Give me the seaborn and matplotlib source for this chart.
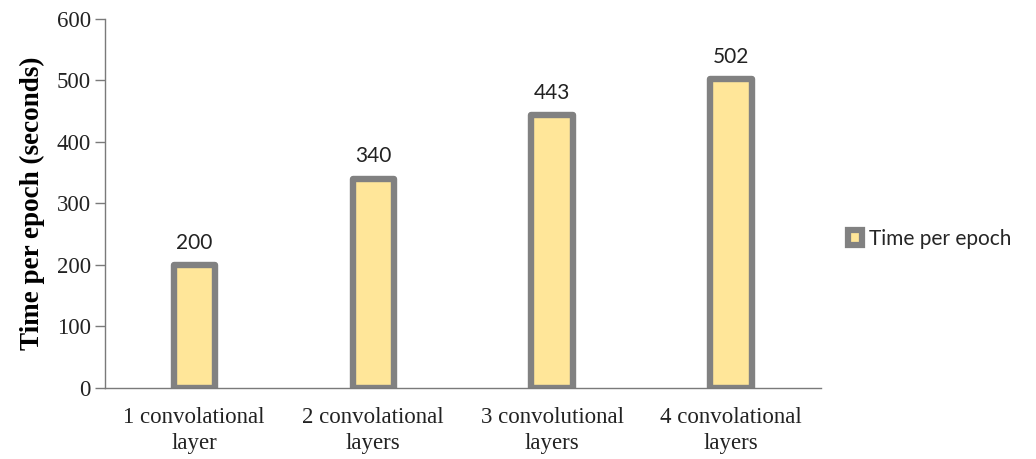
import matplotlib
matplotlib.use("Agg")
import matplotlib.pyplot as plt
from matplotlib.patches import Patch
import seaborn as sns
import pandas as pd

categories = ["1 convolational\nlayer", "2 convolational\nlayers",
              "3 convolutional\nlayers", "4 convolational\nlayers"]
times = [200, 340, 443, 502]
series_name = "Time per epoch"
yticks = [0, 100, 200, 300, 400, 500, 600]

sns.set_theme(style="white")
plt.rcParams["font.family"] = ["Liberation Serif", "DejaVu Serif"]

df = pd.DataFrame({"category": categories, "time": times})

fig = plt.figure(figsize=(10.36, 4.59), dpi=100)
ax = fig.add_axes([0.101, 0.155, 0.691, 0.804])

fill = "#FFE699"
edge = "#818181"
sns.barplot(data=df, x="category", y="time", color=fill, width=0.23,
            edgecolor=edge, linewidth=4.6, saturation=1, ax=ax)
for patch in ax.patches:
    patch.set_joinstyle("round")

for patch, v in zip(ax.patches, times):
    ax.text(patch.get_x() + patch.get_width() / 2, v + 20, f"{v}",
            ha="center", va="bottom", fontsize=15, color="#222222",
            family=["Lato", "DejaVu Sans"])

ax.set_xlim(-0.5, 3.5)
ax.set_ylim(0, 600)
ax.set_yticks(yticks)
ax.set_xlabel("")
ax.set_ylabel("Time per epoch (seconds)", fontsize=19.5, fontweight="bold",
              color="black", labelpad=8)

for side in ["top", "right"]:
    ax.spines[side].set_visible(False)
for side in ["left", "bottom"]:
    ax.spines[side].set_color("#7A7A7A")
    ax.spines[side].set_linewidth(1.0)

ax.tick_params(axis="y", which="both", left=True, length=7, width=1,
               color="#7A7A7A", labelsize=16.5, labelcolor="#222222", pad=3)
ax.tick_params(axis="x", which="both", bottom=False, labelsize=16.5,
               labelcolor="#222222", pad=8)
for lbl in ax.get_xticklabels():
    lbl.set_linespacing(1.3)

handle = Patch(facecolor=fill, edgecolor=edge, linewidth=4.5)
fig.legend([handle], [series_name], loc="center left",
           bbox_to_anchor=(0.800, 0.48), frameon=False, handlelength=0.7,
           handleheight=0.7, handletextpad=0.35,
           prop={"family": ["Lato", "DejaVu Sans"], "size": 15})

fig.savefig("out.png", dpi=100, facecolor="white")
